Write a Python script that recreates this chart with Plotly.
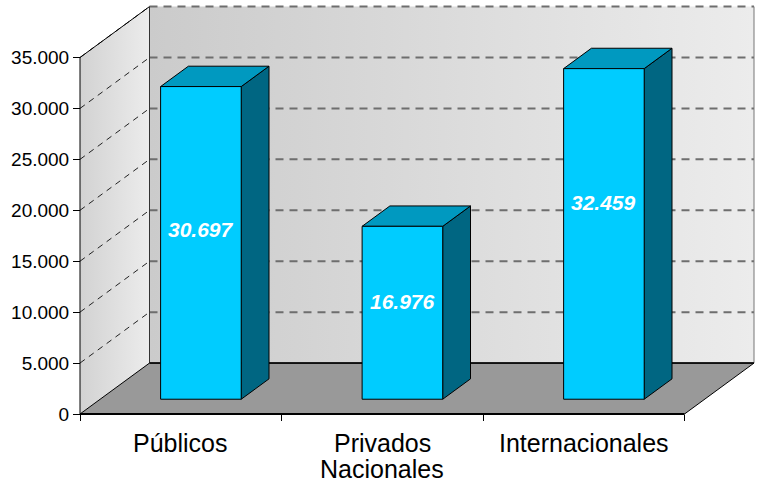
import plotly.graph_objects as go

# ---------------- data ----------------
categories = ["Públicos", "Privados<br>Nacionales", "Internacionales"]
values = [30697, 16976, 32459]
value_labels = ["30.697", "16.976", "32.459"]
y_tickvals = [0, 5000, 10000, 15000, 20000, 25000, 30000, 35000]
y_ticktext = ["0", "5.000", "10.000", "15.000", "20.000", "25.000", "30.000", "35.000"]

# ---------------- geometry / style ----------------
W, H = 759, 486
ML, MR, MT, MB = 74, 2, 2, 66
PX_X0, PX_XPER = 80.0, 201.5          # pixel of category-axis origin, px per category
PX_Y0, PX_PER_UNIT = 414.0, 356.5 / 35000
DX = 69.5 / PX_XPER                   # depth offset (category units)
DY = 5000                             # depth offset (value units)
YTOP = 35000
BAR_W = 0.4
F0, F1 = 0.29, 0.69                   # bar depth position (fraction of floor depth)
LABEL_FRAC = [0.542, 0.566, 0.595]    # vertical position of value labels on bar faces
FONT = "Liberation Sans, Arial, sans-serif"

x_lo = (ML - PX_X0) / PX_XPER
x_hi = (W - MR - PX_X0) / PX_XPER
y_lo = (PX_Y0 - (H - MB)) / PX_PER_UNIT
y_hi = (PX_Y0 - MT) / PX_PER_UNIT
n = len(categories)

fig = go.Figure()


def poly(xs, ys, fill=None, line_color="black", line_width=1, gradient=None, dash=None):
    kw = dict(x=list(xs) + [xs[0]], y=list(ys) + [ys[0]], mode="lines",
              hoverinfo="skip", showlegend=False)
    if fill is not None or gradient is not None:
        kw["fill"] = "toself"
        if fill is not None:
            kw["fillcolor"] = fill
        if gradient is not None:
            kw["fillgradient"] = gradient
    if line_width == 0:
        kw["line"] = dict(width=0, color="rgba(0,0,0,0)")
    else:
        kw["line"] = dict(color=line_color, width=line_width, dash=dash)
    fig.add_trace(go.Scatter(**kw))


def seg(xs, ys, color="black", width=1, dash=None):
    fig.add_trace(go.Scatter(x=xs, y=ys, mode="lines", hoverinfo="skip", showlegend=False,
                             line=dict(color=color, width=width, dash=dash)))


# back wall
poly([DX, n + DX, n + DX, DX], [DY, DY, YTOP + DY, YTOP + DY], line_width=0,
     gradient=dict(type="horizontal", colorscale=[[0, "#cbcbcb"], [1, "#ececec"]]))
# left wall
poly([0, DX, DX, 0], [0, DY, YTOP + DY, YTOP], line_width=0,
     gradient=dict(type="horizontal", colorscale=[[0, "#d2d2d2"], [1, "#ececec"]]))
# floor
poly([0, n, n + DX, DX], [0, 0, DY, DY], fill="#999999", line_color="black", line_width=1)

# gridlines
for v in y_tickvals[1:]:
    seg([DX, n + DX], [v + DY, v + DY], color="#6e6e6e", width=2, dash="8px,6px")
    seg([0, DX], [v, v + DY], color="#222222", width=1, dash="6px,5px")

# wall edges
seg([0, 0], [0, YTOP])
seg([0, DX], [YTOP, YTOP + DY])
seg([DX, DX], [DY, YTOP + DY], color="#333333")
seg([n + DX, n + DX], [DY, YTOP + DY], color="#777777")
seg([DX, n + DX], [DY, DY], width=1.5)
seg([0, n], [0, 0], width=2)

# bars
ddx, ddy = (F1 - F0) * DX, (F1 - F0) * DY
for i, v in enumerate(values):
    x0 = i + 0.5 - BAR_W / 2 + F0 * DX
    x1 = x0 + BAR_W
    b = F0 * DY
    t = b + v
    # side face
    poly([x1, x1 + ddx, x1 + ddx, x1], [b, b + ddy, t + ddy, t], fill="#006682")
    # top face
    poly([x0, x1, x1 + ddx, x0 + ddx], [t, t, t + ddy, t + ddy], fill="#0099C0")
    # front face
    poly([x0, x1, x1, x0], [b, b, t, t], fill="#00CCFF")
    fig.add_annotation(x=(x0 + x1) / 2, y=b + v * LABEL_FRAC[i], text=f"<i><b>{value_labels[i]}</b></i>",
                       showarrow=False, font=dict(family=FONT, size=21, color="white"),
                       xanchor="center", yanchor="middle")

# category labels (one annotation per text line, for tighter line spacing)
for i, c in enumerate(categories):
    for k, line in enumerate(c.split("<br>")):
        if k == 0:
            fig.add_annotation(x=i + 0.5, y=0, text=line, showarrow=False, xanchor="center",
                               yanchor="top", yshift=-13,
                               font=dict(family=FONT, size=25, color="black"))
        else:
            fig.add_annotation(x=i + 0.5, y=0, text=line, showarrow=False, xanchor="center",
                               yanchor="bottom", yshift=-(H - PX_Y0) + 1,
                               font=dict(family=FONT, size=25, color="black"))

fig.update_layout(
    width=W, height=H,
    margin=dict(l=ML, r=MR, t=MT, b=MB, pad=0, autoexpand=False),
    paper_bgcolor="white", plot_bgcolor="white",
    showlegend=False,
    xaxis=dict(range=[x_lo, x_hi], showgrid=False, zeroline=False, showline=False,
               anchor="free", position=((H - MB) - PX_Y0) / (H - MT - MB), automargin=False,
               tickmode="array", tickvals=list(range(n + 1)), ticktext=[""] * (n + 1),
               ticks="outside", ticklen=6, tickcolor="black", tickwidth=1, fixedrange=True),
    yaxis=dict(range=[y_lo, y_hi], showgrid=False, zeroline=False, showline=False,
               anchor="free", position=(PX_X0 - ML) / (W - ML - MR), automargin=False,
               tickmode="array", tickvals=y_tickvals, ticktext=y_ticktext,
               ticks="outside", ticklen=7, tickcolor="black", tickwidth=1,
               tickfont=dict(family=FONT, size=19, color="black"), fixedrange=True),
)

fig.write_html("out.html", config={"displayModeBar": False},
               post_script="document.body.style.margin='0';document.body.style.overflow='hidden';")
